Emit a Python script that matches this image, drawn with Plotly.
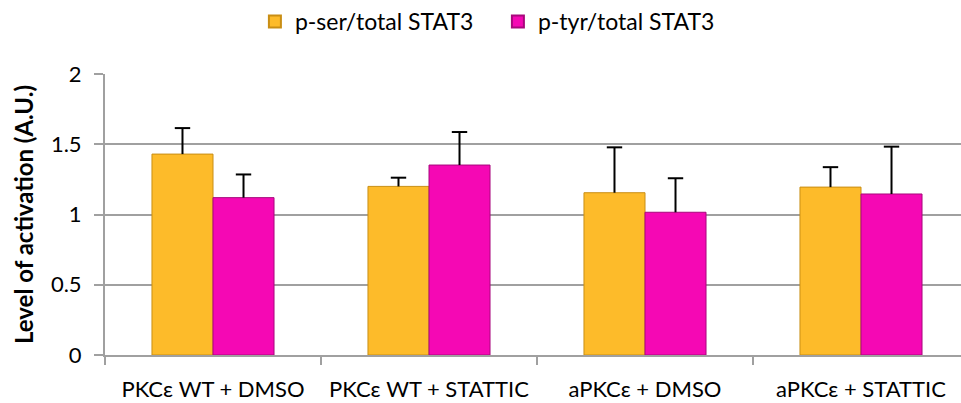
import plotly.graph_objects as go

categories = ["PKCε WT + DMSO", "PKCε WT + STATTIC", "aPKCε + DMSO", "aPKCε + STATTIC"]
ser_values = [1.43, 1.20, 1.155, 1.195]
ser_err = [0.185, 0.062, 0.323, 0.142]
tyr_values = [1.12, 1.352, 1.016, 1.146]
tyr_err = [0.165, 0.235, 0.242, 0.337]
series_names = ["p-ser/total STAT3", "p-tyr/total STAT3"]
y_ticks = [0, 0.5, 1, 1.5, 2]
y_tick_labels = ["0", "0.5", "1", "1.5", "2"]

FONT = "Lato, 'Open Sans', sans-serif"
x_pos = list(range(len(categories)))
BAR_W = 0.2825  # fraction of a category per bar

series = [
    (series_names[0], ser_values, ser_err, "#FDBB2A", "#C98E14", -BAR_W),
    (series_names[1], tyr_values, tyr_err, "#F508B4", "#A8087C", 0.0),
]

fig = go.Figure()
for name, vals, errs, col, edge, off in series:
    fig.add_trace(go.Bar(
        x=x_pos, y=vals, name=name, width=BAR_W, offset=off,
        marker=dict(color=col, line=dict(color=edge, width=1)),
        error_y=dict(type="data", symmetric=False, array=errs,
                     arrayminus=[0] * len(errs), color="black", thickness=2, width=0),
    ))
for name, vals, errs, col, edge, off in series:
    fig.add_trace(go.Scatter(
        x=[p + off + BAR_W / 2 for p in x_pos],
        y=[v + e for v, e in zip(vals, errs)],
        mode="markers", showlegend=False, hoverinfo="skip",
        marker=dict(symbol="line-ew-open", size=11, color="black",
                    line=dict(color="black", width=2)),
    ))

fig.update_layout(
    width=961, height=403,
    margin=dict(l=105, r=0, t=74, b=48),
    paper_bgcolor="white", plot_bgcolor="white",
    barmode="overlay",
    font=dict(family=FONT, size=22, color="black"),
    legend=dict(orientation="h", x=0.459, xanchor="center", y=1.0, yref="container",
                yanchor="top", font=dict(size=23), itemsizing="constant",
                traceorder="normal", entrywidth=198, entrywidthmode="pixels"),
    xaxis=dict(
        range=[-0.5, -0.5 + 856 / 216], tickmode="array", tickvals=x_pos,
        ticktext=categories, ticks="", showgrid=False, zeroline=False,
        showline=True, linecolor="#A0A0A0", linewidth=2,
        minor=dict(tick0=0.5, dtick=1, ticks="outside", ticklen=8,
                   tickcolor="#A0A0A0", tickwidth=2, showgrid=False),
        tickfont=dict(size=22), ticklabelstandoff=14, fixedrange=True,
    ),
    yaxis=dict(
        range=[0, 2], tickmode="array", tickvals=y_ticks, ticktext=y_tick_labels,
        ticks="outside", ticklen=9, tickcolor="#A0A0A0", tickwidth=2,
        showgrid=True, gridcolor="#A0A0A0", gridwidth=2, zeroline=False,
        showline=True, linecolor="#A0A0A0", linewidth=2,
        tickfont=dict(size=22), ticklabelstandoff=8,
        title=dict(text="<b>Level of activation (A.U.)</b>", font=dict(size=24), standoff=10),
    ),
)

fig.write_html("out.html")
